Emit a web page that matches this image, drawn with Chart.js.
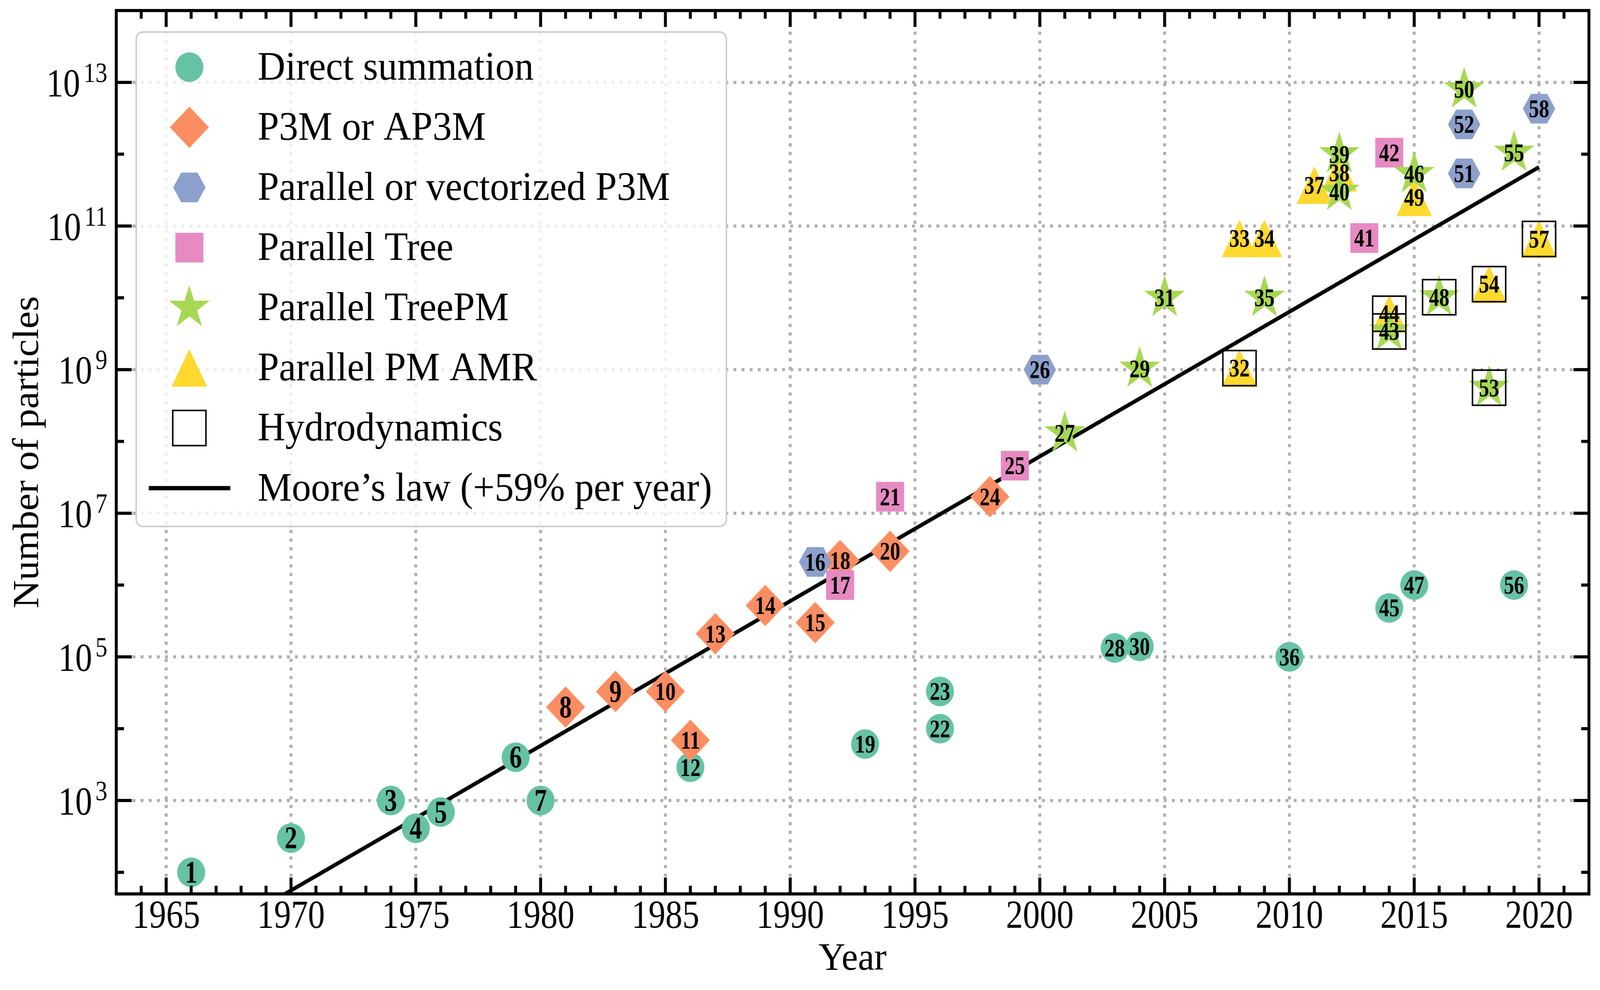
<!DOCTYPE html>
<html><head><meta charset="utf-8">
<script src="https://cdn.jsdelivr.net/npm/chart.js@4.4.1/dist/chart.umd.min.js"></script>
<style>html,body{margin:0;padding:0;background:#fff;overflow:hidden;width:100%;height:100%}canvas{display:block}</style>
</head><body>
<canvas id="c" width="4335" height="2535" style="width:100vw;height:100vh"></canvas>
<script>
// ---------------- data ----------------
const directIds    = [1,2,3,4,5,6,7,12,19,22,23,28,30,36,45,47,56];
const directYears  = [1966,1970,1974,1975,1976,1979,1980,1986,1993,1996,1996,2003,2004,2010,2014,2015,2019];
const directCounts = [100,300,1000,410,690,4000,1000,2900,6100,1e4,3.3e4,1.33e5,1.4e5,1e5,4.8e5,1e6,1e6];

const p3mIds    = [8,9,10,11,13,14,15,18,20,24];
const p3mYears  = [1981,1983,1985,1986,1987,1989,1991,1992,1994,1998];
const p3mCounts = [2e4,3.3e4,3.3e4,6.9e3,2.1e5,5.2e5,3e5,2.2e6,2.95e6,1.7e7];

const parP3mIds    = [16,26,51,52,58];
const parP3mYears  = [1991,2000,2017,2017,2020];
const parP3mCounts = [2.1e6,1e9,5.4e11,2.6e12,4.3e12];

const treeIds    = [17,21,25,41,42];
const treeYears  = [1992,1994,1999,2013,2014];
const treeCounts = [1e6,1.7e7,4.6e7,6.8e10,1.05e12];

const treePmIds    = [27,29,31,35,39,40,43,46,48,50,53,55];
const treePmYears  = [2001,2004,2005,2009,2012,2012,2014,2015,2016,2017,2018,2019];
const treePmCounts = [1.3e8,1.03e9,1e10,1e10,1e12,3e11,3.4e9,5.3e11,1.02e10,8e12,5.6e8,1.05e12];

const amrIds    = [32,33,34,37,38,44,49,54,57];
const amrYears  = [2008,2008,2009,2011,2012,2014,2015,2018,2020];
const amrCounts = [1.05e9,6.7e10,6.7e10,3.7e11,5.5e11,6e9,2.5e11,1.55e10,6.6e10];

const hydroIds    = [32,43,44,48,53,54,57];
const hydroYears  = [2008,2014,2014,2016,2018,2018,2020];
const hydroCounts = [1.05e9,3.4e9,6e9,1.02e10,5.6e8,1.55e10,6.6e10];

const mooreYears  = [1965, 2020];
const mooreCounts = [5.5, 6.6e11];

const seriesLabels = ['Direct summation','P3M or AP3M','Parallel or vectorized P3M','Parallel Tree',
                      'Parallel TreePM','Parallel PM AMR','Hydrodynamics','Moore\u2019s law (+59% per year)'];
const xTickYears   = [1965,1970,1975,1980,1985,1990,1995,2000,2005,2010,2015,2020];
const yTickExps    = [3,5,7,9,11,13];
const xTitle = 'Year';
const yTitle = 'Number of particles';

// ---------------- marker images ----------------
const FONT = '"Liberation Serif", "Times New Roman", serif';
function mk(size, fn){const c=document.createElement('canvas');c.width=c.height=size;const g=c.getContext('2d');g.translate(size/2,size/2);fn(g);return c;}
const mCircle = mk(80, g=>{g.fillStyle='#66c2a5';g.beginPath();g.arc(0,0,38,0,Math.PI*2);g.fill();});
const mDiamond = mk(110, g=>{g.fillStyle='#fc8d62';g.beginPath();g.moveTo(0,-53);g.lineTo(53,0);g.lineTo(0,53);g.lineTo(-53,0);g.closePath();g.fill();});
const mHex = mk(92, g=>{g.fillStyle='#8da0cb';g.beginPath();for(let k=0;k<6;k++){const a=k*Math.PI/3;g.lineTo(44*Math.cos(a),44*Math.sin(a));}g.closePath();g.fill();});
const mSquare = mk(80, g=>{g.fillStyle='#e78ac3';g.fillRect(-38,-38,76,76);});
const mStar = mk(122, g=>{g.fillStyle='#a6d854';g.beginPath();const R=58,r=R*0.381966;for(let k=0;k<10;k++){const a=-Math.PI/2+k*Math.PI/5;const rr=k%2?r:R;g.lineTo(rr*Math.cos(a),rr*Math.sin(a));}g.closePath();g.fill();});
const mTri = mk(100, g=>{g.fillStyle='#ffd92f';g.beginPath();g.moveTo(0,-48);g.lineTo(48,48);g.lineTo(-48,48);g.closePath();g.fill();});
const mHydro = mk(100, g=>{g.strokeStyle='#000';g.lineWidth=4;g.strokeRect(-45,-45,90,90);});

function pts(xs,ys){return xs.map((x,i)=>({x:x,y:ys[i]}));}
function ds(label, xs, ys, ids, marker, order){
  return {label, data:pts(xs,ys), ids, marker, pointStyle:marker, pointRadius:10, order, showLine:false};
}
const datasets = [
  ds(seriesLabels[0], directYears, directCounts, directIds, mCircle, 7),
  ds(seriesLabels[1], p3mYears, p3mCounts, p3mIds, mDiamond, 6),
  ds(seriesLabels[2], parP3mYears, parP3mCounts, parP3mIds, mHex, 4),
  ds(seriesLabels[3], treeYears, treeCounts, treeIds, mSquare, 3),
  ds(seriesLabels[4], treePmYears, treePmCounts, treePmIds, mStar, 2),
  ds(seriesLabels[5], amrYears, amrCounts, amrIds, mTri, 5),
  ds(seriesLabels[6], hydroYears, hydroCounts, null, mHydro, 1),
  {label:seriesLabels[7], data:pts(mooreYears,mooreCounts), showLine:true, borderColor:'#000', borderWidth:10,
   pointRadius:0, order:10, isLine:true}
];

// ---------------- drawing helpers ----------------
function txt(ctx, s, x, y, font, align, sx){
  ctx.save(); ctx.font=font; ctx.textBaseline='alphabetic'; ctx.fillStyle='#000';
  const w=ctx.measureText(s).width*sx;
  let x0 = align==='center'? x-w/2 : align==='right'? x-w : x;
  ctx.translate(x0,y); ctx.scale(sx,1); ctx.textAlign='left'; ctx.fillText(s,0,0); ctx.restore();
  return w;
}

const decor = {
  id:'decor',
  beforeDatasetsDraw(chart){
    const {ctx, chartArea:a, scales:{x,y}} = chart;
    ctx.save(); ctx.strokeStyle='#b0b0b0'; ctx.lineWidth=8; ctx.setLineDash([8,14]);
    xTickYears.forEach(v=>{const px=x.getPixelForValue(v);ctx.beginPath();ctx.moveTo(px,a.bottom);ctx.lineTo(px,a.top);ctx.stroke();});
    yTickExps.forEach(e=>{const py=y.getPixelForValue(Math.pow(10,e));ctx.beginPath();ctx.moveTo(a.left,py);ctx.lineTo(a.right,py);ctx.stroke();});
    ctx.restore();
  },
  afterDatasetsDraw(chart){
    const {ctx, chartArea:a, scales:{x,y}} = chart;
    // number labels
    chart.data.datasets.forEach((d,i)=>{
      if(!d.ids) return;
      const meta = chart.getDatasetMeta(i);
      meta.data.forEach((el,j)=>{
        const id=d.ids[j]; const fs = id<10?80:66;
        txt(ctx, String(id), el.x, el.y+0.33*fs, 'bold '+fs+'px '+FONT, 'center', 0.84);
      });
    });
    // legend
    const L={x0:369,y0:82,x1:1968,y1:1348};
    ctx.save();
    ctx.beginPath(); ctx.roundRect(L.x0,L.y0,L.x1-L.x0,L.y1-L.y0,18);
    ctx.fillStyle='rgba(255,255,255,0.8)'; ctx.fill();
    ctx.strokeStyle='#cccccc'; ctx.lineWidth=4; ctx.stroke();
    ctx.restore();
    chart.data.datasets.forEach((d,i)=>{
      const ry = 172 + i*154;
      if(d.isLine){
        ctx.save(); ctx.strokeStyle='#000'; ctx.lineWidth=11; ctx.beginPath(); ctx.moveTo(403,ry); ctx.lineTo(624,ry); ctx.stroke(); ctx.restore();
      } else {
        ctx.drawImage(d.marker, 513-d.marker.width/2, ry-d.marker.height/2);
      }
      txt(ctx, d.label, 698, ry+32, '104px '+FONT, 'left', 1);
    });
    // frame
    ctx.save(); ctx.strokeStyle='#000'; ctx.lineWidth=8; ctx.lineJoin='miter';
    ctx.strokeRect(a.left,a.top,a.right-a.left,a.bottom-a.top);
    // ticks
    ctx.lineWidth=8; ctx.lineCap='butt';
    const line=(x0,y0,x1,y1)=>{ctx.beginPath();ctx.moveTo(x0,y0);ctx.lineTo(x1,y1);ctx.stroke();};
    for(let v=Math.ceil(x.min); v<=Math.floor(x.max); v++){
      const px=x.getPixelForValue(v); const len = xTickYears.includes(v)?42:21;
      line(px,a.bottom,px,a.bottom-len); line(px,a.top,px,a.top+len);
    }
    for(let e=2;e<=13;e++){
      const py=y.getPixelForValue(Math.pow(10,e)); const len = yTickExps.includes(e)?42:21;
      line(a.left,py,a.left+len,py); line(a.right,py,a.right-len,py);
    }
    ctx.restore();
    // tick labels
    xTickYears.forEach(v=>{ txt(ctx, String(v), x.getPixelForValue(v), a.bottom+87, '102px '+FONT, 'center', 0.9); });
    yTickExps.forEach(e=>{
      const py=y.getPixelForValue(Math.pow(10,e)); const right=a.left-24;
      const sw = txt(ctx, String(e), right, py-1, '72px '+FONT, 'right', 0.9);
      txt(ctx, '10', right-sw-9, py+36, '102px '+FONT, 'right', 0.9);
    });
    // axis titles
    txt(ctx, xTitle, (a.left+a.right)/2, 2483, '100px '+FONT, 'center', 1);
    ctx.save(); ctx.translate(103,(a.top+a.bottom)/2); ctx.rotate(-Math.PI/2);
    txt(ctx, yTitle, 0, 0, '100px '+FONT, 'center', 1);
    ctx.restore();
  }
};

new Chart(document.getElementById('c'), {
  type:'scatter',
  data:{datasets},
  options:{
    responsive:false, devicePixelRatio:1, animation:false, events:[],
    layout:{padding:{left:315, top:27, right:30, bottom:246}},
    plugins:{legend:{display:false}, tooltip:{enabled:false}},
    scales:{
      x:{type:'linear', min:1963, max:2022, display:false},
      y:{type:'logarithmic', min:50, max:1e14, display:false}
    }
  },
  plugins:[decor]
});
</script>
</body></html>
